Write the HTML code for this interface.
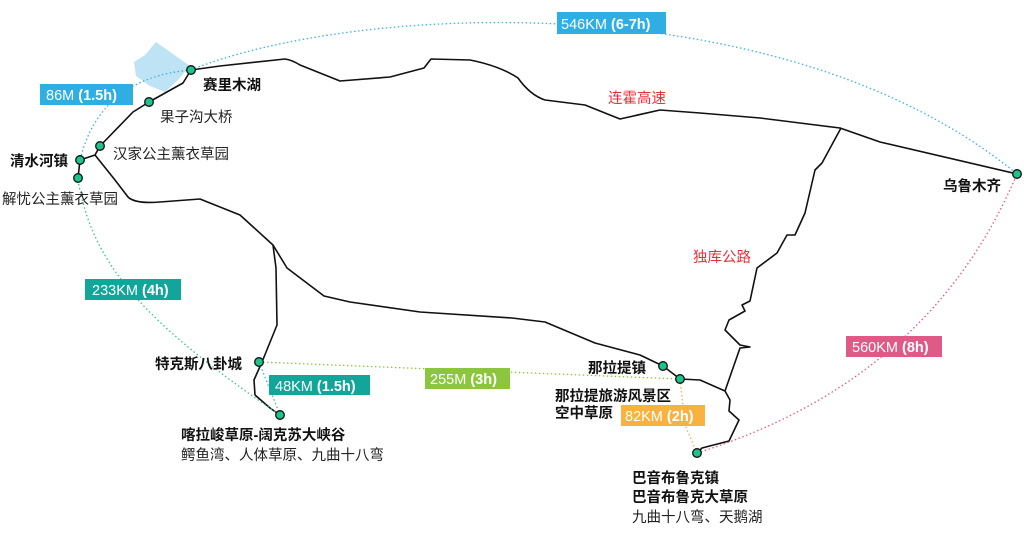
<!DOCTYPE html>
<html><head><meta charset="utf-8"><style>
html,body{margin:0;padding:0;background:#fff;}
svg{display:block;}
text{font-family:"Liberation Sans","Noto Sans CJK SC",sans-serif;font-size:14.5px;fill:#222;}
.b{font-weight:bold;fill:#111;}
.r{fill:#e8303a;}
.lb{fill:#fff;font-size:14.5px;}
</style></head><body>
<svg width="1024" height="538" viewBox="0 0 1024 538" xmlns="http://www.w3.org/2000/svg">
<polygon points="156,42 190,66 178,80 165,92 150,86 136,76 134,62 145,55" fill="#bde3f5"/>
<g fill="none" stroke="#111" stroke-width="1.6" stroke-linejoin="round">
<path d="M191,70 L220,66 L285,59 Q292,60 300,65 L340,81 L390,77 L424,68 L431,59 L470,60 Q500,66 518,78 Q530,95 545,100 L585,105 L620,119 L660,110 L700,113 L760,118 L840,128 L880,142 L1017,174"/>
<path d="M191,70 L183,83 L149,102 L133,112 L100,146 L95,155 L80,160 L78,178"/>
<path d="M95,155 L115,180 L128,197 Q135,204 160,202 L200,199 L240,215 L273,245 L276,268 L277,325 L262,362 L254,380 L255,395 L270,408 L280,415"/>
<path d="M273,245 L287,268 L324,296 L350,302 L420,312 L512,318 L545,322 L595,343 L640,355 L663,366 L680,379 L700,380 L725,391 L730,400 L729,411 L739,420 L729,441 L702,448 L697,453"/>
<path d="M841,128 L822,163 L815,170 L805,213 L795,235 L787,235 L777,253 L757,268 L750,301 L742,305 L745,311 L729,320 L725,330 L740,345 L750,347 L740,348 L725,391"/>
</g>
<g fill="none" stroke-width="1.3" stroke-dasharray="1.5,2.5">
<path d="M191,70 C350,5 780,-20 1017,174" stroke="#3ab0e6"/>
<path d="M191,70 Q100,78 80,160" stroke="#3ab0e6"/>
<path d="M78,180 C92,262 140,320 280,415" stroke="#3cc08a"/>
<path d="M259,362 L280,415" stroke="#3cc08a"/>
<path d="M259,362 L680,379" stroke="#8cc63f"/>
<path d="M680,379 L685,425 L697,453" stroke="#f9b13f"/>
<path d="M697,453 Q930,380 1017,174" stroke="#e05a87"/>
</g>
<g fill="#1dc38c" stroke="#111" stroke-width="1.3">
<circle cx="191" cy="70" r="4.3"/><circle cx="149" cy="102" r="4.3"/><circle cx="100" cy="146" r="4.3"/>
<circle cx="80" cy="160" r="4.3"/><circle cx="78" cy="178" r="4.3"/><circle cx="1017" cy="174" r="4.3"/>
<circle cx="259" cy="362" r="4.3"/><circle cx="280" cy="415" r="4.3"/><circle cx="663" cy="366" r="4.3"/>
<circle cx="680" cy="379" r="4.3"/><circle cx="697" cy="453" r="4.3"/>
</g>
<rect x="557" y="12" width="109" height="22" fill="#2eaee3"/><text class="lb" x="561" y="29">546KM <tspan font-weight="bold">(6-7h)</tspan></text>
<rect x="40" y="84" width="93" height="21" fill="#2eaee3"/><text class="lb" x="46" y="100">86M <tspan font-weight="bold">(1.5h)</tspan></text>
<rect x="85" y="279" width="96" height="21" fill="#12a59a"/><text class="lb" x="92" y="295">233KM <tspan font-weight="bold">(4h)</tspan></text>
<rect x="269" y="375" width="101" height="20" fill="#12a59a"/><text class="lb" x="275" y="391">48KM <tspan font-weight="bold">(1.5h)</tspan></text>
<rect x="425" y="368" width="85" height="21" fill="#8cc63f"/><text class="lb" x="430" y="384">255M <tspan font-weight="bold">(3h)</tspan></text>
<rect x="621" y="405" width="84" height="21" fill="#f9b13f"/><text class="lb" x="625" y="421">82KM <tspan font-weight="bold">(2h)</tspan></text>
<rect x="846" y="336" width="96" height="21" fill="#e05a87"/><text class="lb" x="852" y="352">560KM <tspan font-weight="bold">(8h)</tspan></text>
<text class="b" x="203" y="90">赛里木湖</text>
<text x="160" y="122">果子沟大桥</text>
<text x="113" y="159">汉家公主薰衣草园</text>
<text class="b" x="10" y="166">清水河镇</text>
<text x="2" y="204">解忧公主薰衣草园</text>
<text class="r" x="608" y="103">连霍高速</text>
<text class="r" x="693" y="262">独库公路</text>
<text class="b" x="943" y="191">乌鲁木齐</text>
<text class="b" x="155" y="369">特克斯八卦城</text>
<text class="b" x="181" y="440">喀拉峻草原-阔克苏大峡谷</text>
<text x="181" y="460">鳄鱼湾、人体草原、九曲十八弯</text>
<text class="b" x="588" y="373">那拉提镇</text>
<text class="b" x="555" y="401">那拉提旅游风景区</text>
<text class="b" x="555" y="418">空中草原</text>
<text class="b" x="632" y="483">巴音布鲁克镇</text>
<text class="b" x="632" y="502">巴音布鲁克大草原</text>
<text x="632" y="522">九曲十八弯、天鹅湖</text>
</svg>
</body></html>
